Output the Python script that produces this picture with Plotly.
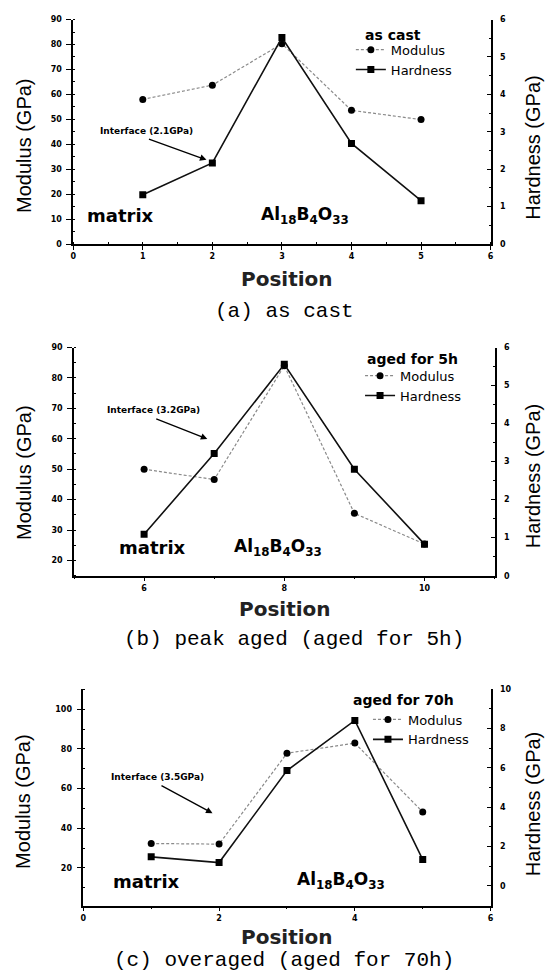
import plotly.graph_objects as go

W, H = 549, 978

# ---------------- data ----------------
pos_a = [1, 2, 3, 4, 5]
modulus_a = [58.0, 63.7, 80.3, 53.6, 49.9]
hardness_a = [1.32, 2.17, 5.52, 2.69, 1.16]

pos_b = [6, 7, 8, 9, 10]
modulus_b = [50.0, 46.6, 84.0, 35.5, 25.4]
hardness_b = [1.09, 3.21, 5.56, 2.80, 0.83]

pos_c = [1, 2, 3, 4, 5]
modulus_c = [32.3, 32.0, 77.8, 82.9, 48.2]
hardness_c = [1.48, 1.19, 5.87, 8.42, 1.34]

legend_titles = ["as cast", "aged for 5h", "aged for 70h"]
interface_labels = ["Interface (2.1GPa)", "Interface (3.2GPa)", "Interface (3.5GPa)"]
captions = ["(a) as cast", "(b) peak aged (aged for 5h)", "(c) overaged (aged for 70h)"]

# ---------------- helpers ----------------
def px(x):
    return x / W

def py(y):
    return 1 - y / H

TICKFONT = dict(family="DejaVu Sans", size=8, color="black", weight="bold")

fig = go.Figure()

panels = [
    (pos_a, modulus_a, hardness_a, "x", "y", "y2", "legend"),
    (pos_b, modulus_b, hardness_b, "x2", "y3", "y4", "legend2"),
    (pos_c, modulus_c, hardness_c, "x3", "y5", "y6", "legend3"),
]
for pos, mod, hard, xa, yl, yr, lg in panels:
    fig.add_trace(go.Scatter(
        x=pos, y=mod, name="Modulus", mode="lines+markers",
        xaxis=xa, yaxis=yl, legend=lg,
        line=dict(color="#8a8a8a", width=1.2, dash="3px,2px"),
        marker=dict(symbol="circle", size=7, color="black"),
    ))
    fig.add_trace(go.Scatter(
        x=pos, y=hard, name="Hardness", mode="lines+markers",
        xaxis=xa, yaxis=yr, legend=lg,
        line=dict(color="#111111", width=1.6),
        marker=dict(symbol="square", size=7, color="black"),
    ))

def xaxis(domain, rng, dtick, tick0, minor_dtick, minor_side, anchor):
    return dict(domain=domain, range=rng, anchor=anchor, dtick=dtick, tick0=tick0,
                showline=True, linecolor="black", linewidth=1.5,
                ticks="outside", ticklen=4, tickwidth=1, tickcolor="black",
                tickfont=TICKFONT, showgrid=False, zeroline=False,
                minor=dict(dtick=minor_dtick, ticks=minor_side, ticklen=2, tickcolor="black", showgrid=False))

def yleft(domain, rng, dtick, tick0, minor_dtick, anchor):
    return dict(domain=domain, range=rng, anchor=anchor, dtick=dtick, tick0=tick0,
                showline=True, linecolor="black", linewidth=1.5,
                ticks="outside", ticklen=5, tickwidth=1, tickcolor="black",
                ticklabelstandoff=3,
                tickfont=TICKFONT, showgrid=False, zeroline=False,
                minor=dict(dtick=minor_dtick, ticks="inside", ticklen=2, tickcolor="black", showgrid=False))

def yright(domain, rng, dtick, tick0, minor_dtick, anchor, overlay):
    return dict(domain=domain, range=rng, anchor=anchor, overlaying=overlay, side="right",
                dtick=dtick, tick0=tick0,
                showline=True, linecolor="black", linewidth=1.5,
                ticks="inside", ticklen=4, tickwidth=1, tickcolor="black",
                ticklabelstandoff=6,
                tickfont=TICKFONT, showgrid=False, zeroline=False,
                minor=dict(dtick=minor_dtick, ticks="inside", ticklen=2, tickcolor="black", showgrid=False))

dom_a_x = [px(71), px(493)];   dom_a_y = [py(242.3), py(15.7)]
dom_b_x = [px(71.8), px(497)]; dom_b_y = [py(577), py(346.7)]
dom_c_x = [px(81.2), px(493)]; dom_c_y = [py(910), py(691.7)]

fig.update_layout(
    xaxis=xaxis(dom_a_x, [0, 6], 1, 0, 0.5, "inside", "y"),
    yaxis=yleft(dom_a_y, [0, 90], 10, 0, 5, "x"),
    yaxis2=yright(dom_a_y, [0, 6], 1, 0, 0.5, "x", "y"),
    xaxis2=xaxis(dom_b_x, [5, 11], 2, 6, 1, "outside", "y3"),
    yaxis3=yleft(dom_b_y, [15, 90], 10, 0, 5, "x2"),
    yaxis4=yright(dom_b_y, [0, 6], 1, 0, 0.5, "x2", "y3"),
    xaxis3=xaxis(dom_c_x, [0, 6], 2, 0, 1, "outside", "y5"),
    yaxis5=yleft(dom_c_y, [1, 110], 20, 0, 10, "x3"),
    yaxis6=yright(dom_c_y, [-1, 10], 2, 0, 1, "x3", "y5"),
)

LEGFONT = dict(family="DejaVu Sans", size=13, color="black")
def legend(left, top):
    return dict(x=px(left), y=py(top), xanchor="left", yanchor="top",
                bgcolor="rgba(0,0,0,0)", borderwidth=0, font=LEGFONT,
                itemwidth=30, tracegroupgap=0)

fig.update_layout(
    legend=legend(351.7, 31),
    legend2=legend(361, 360),
    legend3=legend(369, 707),
)

anns = []
def text(t, x, y, size, family="DejaVu Sans", bold=False, angle=0, color="black"):
    f = dict(family=family, size=size, color=color)
    if bold:
        f["weight"] = "bold"
    anns.append(dict(text=t, x=px(x), y=py(y), xref="paper", yref="paper",
                     xanchor="center", yanchor="middle", showarrow=False,
                     font=f, textangle=angle))

def arrow(hx, hy, tx, ty):
    anns.append(dict(text="", x=px(hx), y=py(hy), xref="paper", yref="paper",
                     ax=tx - hx, ay=ty - hy, axref="pixel", ayref="pixel",
                     showarrow=True, arrowhead=2, arrowsize=1, arrowwidth=1.3,
                     arrowcolor="black"))

AL = "Al<sub>18</sub>B<sub>4</sub>O<sub>33</sub>"

# panel (a)
text("Modulus (GPa)", 21, 142.5, 20, "Liberation Sans", angle=-90)
text("Hardness (GPa)", 536, 145, 20, "Liberation Sans", angle=-90)
text("Position", 287, 278, 20, bold=True, color="#222")
text(captions[0], 285, 310, 21, "Liberation Mono")
text(legend_titles[0], 394, 31, 14, bold=True)
text(interface_labels[0], 145, 127.7, 9, bold=True)
arrow(205.7, 157.3, 146.7, 136)
text("matrix", 119, 213.3, 18, bold=True)
text(AL, 305.6, 213.3, 17, bold=True)

# panel (b)
text("Modulus (GPa)", 21, 472.5, 20, "Liberation Sans", angle=-90)
text("Hardness (GPa)", 536, 476.5, 20, "Liberation Sans", angle=-90)
text("Position", 285.4, 610.7, 20, bold=True, color="#222")
text(captions[1], 294, 641.7, 21, "Liberation Mono")
text(legend_titles[1], 414, 358.5, 14, bold=True)
text(interface_labels[1], 152, 410, 9, bold=True)
arrow(206.6, 439, 154, 418.3)
text("matrix", 151.5, 548.7, 18, bold=True)
text(AL, 278, 548.7, 17, bold=True)

# panel (c)
text("Modulus (GPa)", 19.5, 805, 20, "Liberation Sans", angle=-90)
text("Hardness (GPa)", 536, 807.5, 20, "Liberation Sans", angle=-90)
text("Position", 287, 941.7, 20, bold=True, color="#222")
text(captions[2], 283.6, 965, 21, "Liberation Mono")
text(legend_titles[2], 405, 702.5, 14, bold=True)
text(interface_labels[2], 156.7, 780, 9, bold=True)
arrow(211.8, 816.7, 159.3, 788.3)
text("matrix", 145.3, 886, 18, bold=True)
text(AL, 341.4, 885, 17, bold=True)

fig.update_layout(
    annotations=anns,
    width=W, height=H,
    margin=dict(l=0, r=0, t=0, b=0),
    paper_bgcolor="white", plot_bgcolor="white",
    showlegend=True,
    font=dict(family="DejaVu Sans", color="black"),
)

fig.write_html(
    "out.html",
    config={"displayModeBar": False},
    post_script="document.body.style.margin='0';document.body.style.padding='0';"
                "document.body.style.overflow='hidden';",
)
